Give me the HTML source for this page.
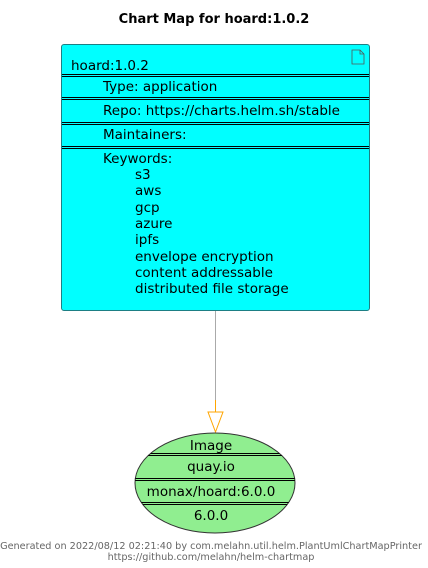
<!DOCTYPE html>
<html><head><style>body{margin:0;background:#fff}svg{display:block}</style></head><body>
<svg width="428" height="568" xmlns="http://www.w3.org/2000/svg" font-family="DejaVu Sans, Liberation Sans, sans-serif">
<text x="214" y="23" text-anchor="middle" font-size="13" font-weight="bold">Chart Map for hoard:1.0.2</text>
<rect x="61.5" y="44.5" width="308" height="266" rx="2.5" fill="#00FFFF" stroke="#1d7f84"/>
<path d="M352 50h8l4 4v10h-12z M360 50v4h4" fill="none" stroke="#555" stroke-width="0.8"/>
<g stroke="#000" stroke-width="1">
<line x1="62" y1="74.5" x2="369" y2="74.5"/><line x1="62" y1="76.5" x2="369" y2="76.5"/>
<line x1="62" y1="97.5" x2="369" y2="97.5"/><line x1="62" y1="99.5" x2="369" y2="99.5"/>
<line x1="62" y1="122.5" x2="369" y2="122.5"/><line x1="62" y1="124.5" x2="369" y2="124.5"/>
<line x1="62" y1="146.5" x2="369" y2="146.5"/><line x1="62" y1="148.5" x2="369" y2="148.5"/>
</g>
<g font-size="13.5" fill="#000">
<text x="71" y="70">hoard:1.0.2</text>
<text x="103" y="91">Type: application</text>
<text x="103" y="115">Repo: https://charts.helm.sh/stable</text>
<text x="103" y="139">Maintainers:</text>
<text x="103" y="163">Keywords:</text>
<text x="135" y="179">s3</text>
<text x="135" y="195">aws</text>
<text x="135" y="212">gcp</text>
<text x="135" y="228">azure</text>
<text x="135" y="244">ipfs</text>
<text x="135" y="261">envelope encryption</text>
<text x="135" y="277">content addressable</text>
<text x="135" y="293">distributed file storage</text>
</g>
<line x1="215.5" y1="311" x2="215.5" y2="412" stroke="#aaa"/>
<polygon points="208,412 223,412 215.5,432" fill="#fff" stroke="#FFA500"/>
<line x1="215.5" y1="400" x2="215.5" y2="412" stroke="#FFA500"/>
<ellipse cx="215" cy="483" rx="80" ry="50" fill="#90EE90" stroke="#333"/>
<clipPath id="c"><ellipse cx="215" cy="483" rx="80" ry="50"/></clipPath>
<g stroke="#000" clip-path="url(#c)">
<line x1="130" y1="453.5" x2="300" y2="453.5"/><line x1="130" y1="455.5" x2="300" y2="455.5"/>
<line x1="130" y1="478.5" x2="300" y2="478.5"/><line x1="130" y1="480.5" x2="300" y2="480.5"/>
<line x1="130" y1="502.5" x2="300" y2="502.5"/><line x1="130" y1="504.5" x2="300" y2="504.5"/>
</g>
<g font-size="13.5" text-anchor="middle">
<text x="211" y="450">Image</text>
<text x="211" y="471">quay.io</text>
<text x="211" y="496">monax/hoard:6.0.0</text>
<text x="211" y="520">6.0.0</text>
</g>
<g font-size="9.7" fill="#666" text-anchor="middle">
<text x="211" y="549">Generated on 2022/08/12 02:21:40 by com.melahn.util.helm.PlantUmlChartMapPrinter</text>
<text x="211" y="560">https://github.com/melahn/helm-chartmap</text>
</g>
</svg>
</body></html>
